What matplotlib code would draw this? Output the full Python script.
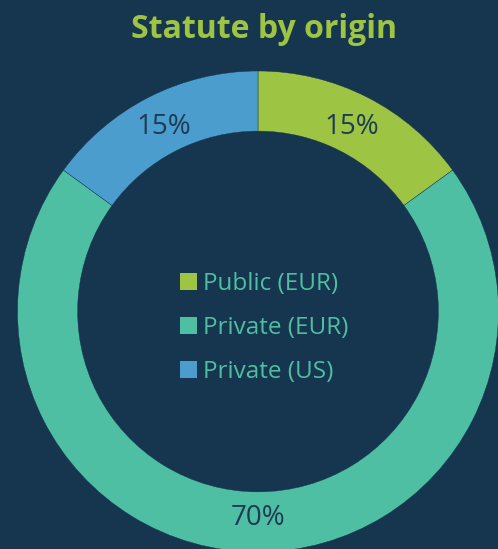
import matplotlib
matplotlib.use("Agg")
import matplotlib.pyplot as plt
from matplotlib.patches import Patch

labels = ["Public (EUR)", "Private (EUR)", "Private (US)"]
shares = [15, 70, 15]
colors = ["#9dc543", "#4fbfa4", "#4a9dcc"]

BG = "#16354f"
W, H = 498, 549

plt.rcParams["font.family"] = ["Open Sans", "DejaVu Sans"]

fig = plt.figure(figsize=(W / 100, H / 100), dpi=100, facecolor=BG)

# donut geometry in pixels (center, outer radius)
cx, cy, r = 258, 311.5, 240.5
ax = fig.add_axes([(cx - r) / W, (H - cy - r) / H, 2 * r / W, 2 * r / H])
ax.set_facecolor(BG)
wedges, _, autotexts = ax.pie(
    shares, colors=colors, startangle=90, counterclock=False, radius=1,
    autopct="%d%%", pctdistance=0.86,
    wedgeprops=dict(width=0.25, edgecolor=BG, linewidth=0.3),
    textprops=dict(color="#1d3b55", fontsize=20),
)
for w in wedges:
    w.set_clip_on(False)
ax.set_xlim(-1, 1)
ax.set_ylim(-1, 1)
ax.axis("off")

fig.text(264 / W, 1 - 30 / H, "Statute by origin", ha="center", va="center",
         color="#9dc543", fontsize=23, fontweight="bold")

handles = [Patch(facecolor=c, edgecolor="none") for c in colors]
leg = fig.legend(handles, labels, loc="center", bbox_to_anchor=(264 / W, 1 - 328 / H),
                 frameon=False, fontsize=17.5, handlelength=0.68, handleheight=0.68,
                 handletextpad=0.25, labelspacing=0.82, borderpad=0)
for t in leg.get_texts():
    t.set_color("#4fbfa4")

fig.savefig("out.png", dpi=100, facecolor=BG)
